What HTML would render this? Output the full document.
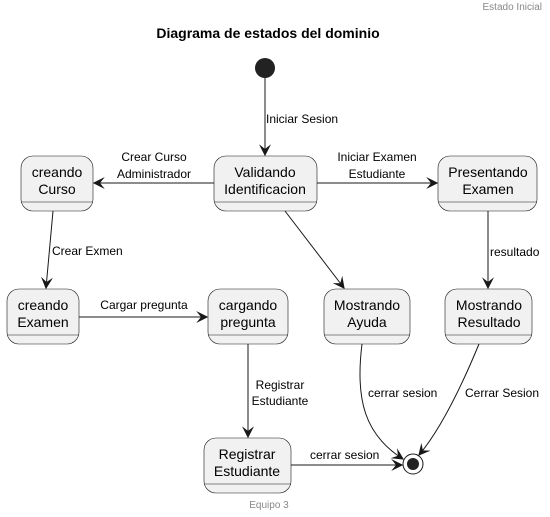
<!DOCTYPE html>
<html><head><meta charset="utf-8"><style>body{margin:0;background:#fff}svg{display:block}text{font-family:"Liberation Sans",sans-serif}</style></head><body>
<svg width="550" height="517" viewBox="0 0 550 517">
<defs><marker id="ah" viewBox="0 0 10 10" refX="9" refY="5" markerWidth="12" markerHeight="12" markerUnits="userSpaceOnUse" orient="auto"><path d="M0,0 L10,5 L0,10 L4,5 Z" fill="#181818"/></marker></defs>
<text x="542" y="10" font-size="10" fill="#888" text-anchor="end">Estado Inicial</text>
<text x="268" y="38" font-size="14" font-weight="bold" text-anchor="middle" fill="#000">Diagrama de estados del dominio</text>
<circle cx="265" cy="68" r="10" fill="#222"/>
<g fill="#F1F1F1" stroke="#181818" stroke-width="0.6">
<g><rect x="21" y="156" width="72" height="55" rx="12"/><line x1="21" y1="202" x2="93" y2="202"/></g>
<g><rect x="214" y="156" width="103" height="55" rx="12"/><line x1="214" y1="202" x2="317" y2="202"/></g>
<g><rect x="438" y="156" width="99" height="55" rx="12"/><line x1="438" y1="202" x2="537" y2="202"/></g>
<g><rect x="7" y="289" width="72" height="55" rx="12"/><line x1="7" y1="335" x2="79" y2="335"/></g>
<g><rect x="208" y="289" width="80" height="55" rx="12"/><line x1="208" y1="335" x2="288" y2="335"/></g>
<g><rect x="324" y="289" width="86" height="55" rx="12"/><line x1="324" y1="335" x2="410" y2="335"/></g>
<g><rect x="445" y="289" width="87" height="55" rx="12"/><line x1="445" y1="335" x2="532" y2="335"/></g>
<g><rect x="204" y="438" width="87" height="55" rx="12"/><line x1="204" y1="484" x2="291" y2="484"/></g>
</g>
<g font-size="14" fill="#000" text-anchor="middle">
<text x="57" y="177">creando</text><text x="57" y="194">Curso</text>
<text x="265" y="177">Validando</text><text x="265" y="194">Identificacion</text>
<text x="488" y="177">Presentando</text><text x="488" y="194">Examen</text>
<text x="43" y="310">creando</text><text x="43" y="327">Examen</text>
<text x="248" y="310">cargando</text><text x="248" y="327">pregunta</text>
<text x="367" y="310">Mostrando</text><text x="367" y="327">Ayuda</text>
<text x="489" y="310">Mostrando</text><text x="489" y="327">Resultado</text>
<text x="247" y="459">Registrar</text><text x="247" y="476">Estudiante</text>
</g>
<circle cx="413" cy="464" r="10" fill="#fff" stroke="#181818"/>
<circle cx="413" cy="464" r="6" fill="#222"/>
<g stroke="#181818" fill="none" marker-end="url(#ah)">
<line x1="265" y1="78" x2="265" y2="155"/>
<line x1="214" y1="183" x2="94" y2="183"/>
<line x1="317" y1="183" x2="437" y2="183"/>
<line x1="53" y1="211" x2="46" y2="288"/>
<line x1="79" y1="317" x2="207" y2="317"/>
<line x1="285" y1="211" x2="344" y2="288"/>
<line x1="488" y1="211" x2="488" y2="288"/>
<line x1="248" y1="344" x2="248" y2="437"/>
<line x1="291" y1="465" x2="402" y2="465"/>
<path d="M362,344 C355,400 365,435 403,459"/>
<path d="M479,344 C460,390 440,430 419,455"/>
</g>
<g font-size="12" fill="#000">
<text x="266" y="123">Iniciar Sesion</text>
<text x="154" y="161" text-anchor="middle">Crear Curso</text><text x="154" y="178" text-anchor="middle">Administrador</text>
<text x="377" y="161" text-anchor="middle">Iniciar Examen</text><text x="377" y="178" text-anchor="middle">Estudiante</text>
<text x="52" y="255">Crear Exmen</text>
<text x="144" y="309" text-anchor="middle">Cargar pregunta</text>
<text x="490" y="256">resultado</text>
<text x="280" y="389" text-anchor="middle">Registrar</text><text x="280" y="405" text-anchor="middle">Estudiante</text>
<text x="368" y="397">cerrar sesion</text>
<text x="465" y="397">Cerrar Sesion</text>
<text x="310" y="459">cerrar sesion</text>
</g>
<text x="269" y="508" font-size="10" fill="#888" text-anchor="middle">Equipo 3</text>
</svg>
</body></html>
